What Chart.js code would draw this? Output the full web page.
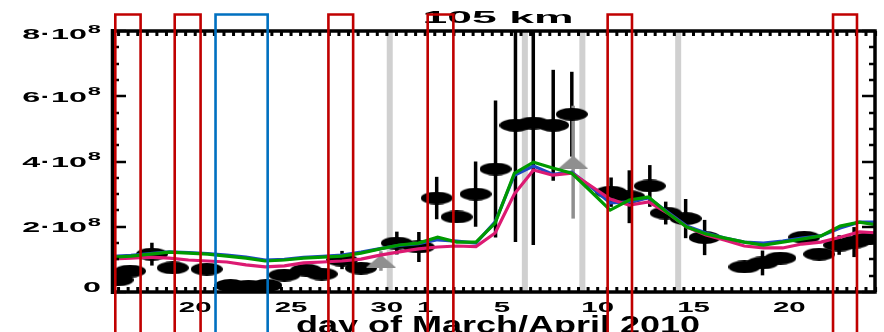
<!DOCTYPE html>
<html>
<head>
<meta charset="utf-8">
<script src="https://cdn.jsdelivr.net/npm/chart.js@4/dist/chart.umd.min.js"></script>
<style>
  html, body { margin: 0; padding: 0; background: #fff; overflow: hidden; }
  canvas { display: block; }
</style>
</head>
<body>
<canvas id="c" width="884" height="332"></canvas>
<script>
// ---- Data (x = day of year 2010, y = density in units of 1e8) ----
const obsDay = [74.95, 75.6, 76.74, 77.83, 79.6, 80.84, 81.78, 82.71, 83.65, 84.79, 85.6, 86.66, 87.65,
  89.52, 90.67, 91.6, 92.64, 93.63, 94.67, 95.71, 96.64, 97.68, 98.65,
  100.7, 101.65, 102.72, 103.55, 104.59, 105.58, 107.66, 108.6, 109.53, 110.78, 111.56, 112.6, 113.38, 114.21];
const obsVal = [0.37, 0.64, 1.16, 0.74, 0.70, 0.20, 0.18, 0.20, 0.52, 0.67, 0.55, 0.98, 0.73,
  1.50, 1.38, 2.88, 2.30, 3.00, 3.77, 5.11, 5.18, 5.11, 5.45,
  3.06, 2.92, 3.25, 2.42, 2.25, 1.67, 0.77, 0.89, 1.04, 1.68, 1.16, 1.44, 1.53, 1.65];
const obsErr = [0, 0, 0.35, 0, 0, 0, 0, 0, 0, 0, 0, 0.28, 0,
  0.35, 0.46, 0.65, 0, 1.00, 2.10, 3.58, 3.74, 1.70, 1.30,
  0.45, 0.81, 0.64, 0.35, 0.60, 0.54, 0, 0.38, 0, 0, 0, 0.30, 0.46, 0];

const triDay = [88.69, 98.72];
const triVal = [0.95, 3.98];
const triErr = [0.30, 1.73];

const modelDay = [74.65, 75.65, 76.65, 77.65, 78.65, 79.65, 80.65, 81.65, 82.65, 83.65,
  84.65, 85.65, 86.65, 87.65, 88.65, 89.65, 90.65, 91.65, 92.65, 93.65,
  94.65, 95.65, 96.65, 97.65, 98.65, 99.65, 100.65, 101.65, 102.65, 103.65,
  104.65, 105.65, 106.65, 107.65, 108.65, 109.65, 110.65, 111.65, 112.65, 113.65, 114.65];
const modelBlue = [1.09, 1.12, 1.18, 1.23, 1.21, 1.18, 1.13, 1.07, 0.98, 1.00,
  1.06, 1.09, 1.13, 1.22, 1.33, 1.43, 1.48, 1.60, 1.56, 1.50,
  2.15, 3.58, 3.86, 3.61, 3.67, 3.22, 2.73, 2.76, 2.88, 2.45,
  2.02, 1.81, 1.65, 1.53, 1.50, 1.56, 1.65, 1.72, 1.96, 2.14, 2.14];
const modelMagenta = [1.01, 1.04, 1.07, 1.04, 0.98, 0.95, 0.92, 0.83, 0.77, 0.80,
  0.89, 0.92, 0.95, 1.01, 1.13, 1.23, 1.32, 1.38, 1.41, 1.39,
  1.81, 3.00, 3.74, 3.58, 3.64, 3.25, 2.85, 2.66, 2.76, 2.42,
  1.99, 1.75, 1.59, 1.41, 1.35, 1.35, 1.47, 1.53, 1.68, 1.84, 1.81];
const modelGreen = [1.07, 1.10, 1.16, 1.22, 1.19, 1.16, 1.10, 1.04, 0.95, 0.98,
  1.04, 1.07, 1.10, 1.19, 1.32, 1.44, 1.50, 1.68, 1.53, 1.53,
  2.11, 3.64, 3.98, 3.80, 3.64, 3.08, 2.51, 2.82, 2.91, 2.42,
  1.99, 1.78, 1.65, 1.53, 1.44, 1.53, 1.62, 1.72, 2.02, 2.14, 2.05];

// highlighted intervals [start day, end day]
const redSpans = [[74.83, 76.15], [77.93, 79.28], [85.95, 87.24], [91.13, 92.47], [100.52, 101.79], [112.28, 113.53]];
const blueSpans = [[80.06, 82.78]];
const greyDays = [89.15, 96.2, 99.2, 104.2];

const xTickDays = [79, 84, 89, 91, 95, 100, 105, 110];
const xTickLabels = ['20', '25', '30', '1', '5', '10', '15', '20'];
const yTickVals = [0, 2, 4, 6, 8];
const yTickLabels = ['0', '2·10^8', '4·10^8', '6·10^8', '8·10^8'];

const titleText = '105 km';
const xTitleText = 'day of March/April 2010';

// ---- marker images ----
function ellipseImg(w, h, color) {
  const c = document.createElement('canvas');
  c.width = w; c.height = h;
  const g = c.getContext('2d');
  g.fillStyle = color;
  g.beginPath();
  g.ellipse(w / 2, h / 2, w / 2, h / 2, 0, 0, Math.PI * 2);
  g.fill();
  return c;
}
function triangleImg(w, h, color) {
  const c = document.createElement('canvas');
  c.width = w; c.height = h;
  const g = c.getContext('2d');
  g.fillStyle = color;
  g.beginPath();
  g.moveTo(w / 2, 0);
  g.lineTo(w, h);
  g.lineTo(0, h);
  g.closePath();
  g.fill();
  return c;
}
const dotImg = ellipseImg(32, 13, '#000');
const triImg = triangleImg(30, 13, '#8f8f8f');

const FONT = "'Liberation Sans', Arial, Helvetica, sans-serif";

function stretchText(ctx, text, x, y, size, sx, align) {
  ctx.save();
  ctx.font = 'bold ' + size + 'px ' + FONT;
  ctx.textAlign = 'left';
  ctx.textBaseline = 'alphabetic';
  const w = ctx.measureText(text).width * sx;
  const x0 = align === 'center' ? x - w / 2 : align === 'right' ? x - w : x;
  ctx.translate(x0, y);
  ctx.scale(sx, 1);
  ctx.fillStyle = '#000';
  ctx.fillText(text, 0, 0);
  ctx.restore();
  return w;
}
function textWidth(ctx, text, size, sx) {
  ctx.save();
  ctx.font = 'bold ' + size + 'px ' + FONT;
  const w = ctx.measureText(text).width * sx;
  ctx.restore();
  return w;
}

const decor = {
  id: 'decor',
  beforeDatasetsDraw(chart) {
    const { ctx, chartArea: a, scales: { x, y } } = chart;
    ctx.save();
    // grey reference days
    ctx.fillStyle = '#d0d0d0';
    greyDays.forEach(d => {
      const px = x.getPixelForValue(d);
      ctx.fillRect(px - 3, a.top, 6, a.bottom - a.top);
    });
    ctx.beginPath();
    ctx.rect(a.left, a.top, a.right - a.left, a.bottom - a.top);
    ctx.clip();
    // error bars
    ctx.lineWidth = 3.5;
    ctx.strokeStyle = '#000';
    obsDay.forEach((d, i) => {
      if (!obsErr[i]) return;
      const px = x.getPixelForValue(d);
      ctx.beginPath();
      ctx.moveTo(px, y.getPixelForValue(obsVal[i] + obsErr[i]));
      ctx.lineTo(px, y.getPixelForValue(obsVal[i] - obsErr[i]));
      ctx.stroke();
    });
    ctx.strokeStyle = '#8f8f8f';
    triDay.forEach((d, i) => {
      const px = x.getPixelForValue(d);
      ctx.beginPath();
      ctx.moveTo(px, y.getPixelForValue(triVal[i] + triErr[i]));
      ctx.lineTo(px, y.getPixelForValue(triVal[i] - triErr[i]));
      ctx.stroke();
    });
    ctx.restore();
  },
  afterDraw(chart) {
    const { ctx, chartArea: a, scales: { x, y } } = chart;
    ctx.save();
    ctx.strokeStyle = '#000';
    ctx.lineCap = 'butt';
    // y ticks (inward, both sides)
    ctx.lineWidth = 2.5;
    for (let v = 0; v <= 8.001; v += 0.5) {
      const py = Math.round(y.getPixelForValue(v));
      const len = Math.abs(v % 2) < 1e-6 ? 13 : 6;
      ctx.beginPath();
      ctx.moveTo(a.left, py); ctx.lineTo(a.left + len, py);
      ctx.moveTo(a.right, py); ctx.lineTo(a.right - len, py);
      ctx.stroke();
    }
    // x ticks every half day (inward, top and bottom)
    ctx.lineWidth = 3;
    for (let d = 75; d <= 114.5; d += 0.5) {
      const px = x.getPixelForValue(d);
      ctx.beginPath();
      ctx.moveTo(px, a.top); ctx.lineTo(px, a.top + 5);
      ctx.moveTo(px, a.bottom); ctx.lineTo(px, a.bottom - 5);
      ctx.stroke();
    }
    // frame
    ctx.lineWidth = 3.5;
    ctx.strokeRect(a.left, a.top, a.right - a.left, a.bottom - a.top);
    ctx.lineWidth = 4.5;
    ctx.beginPath();
    ctx.moveTo(a.left, a.top - 2); ctx.lineTo(a.left, a.bottom + 2);
    ctx.stroke();

    // y tick labels
    yTickVals.forEach((v, i) => {
      const c = Math.min(287, Math.max(34, y.getPixelForValue(v)));
      const base = c + 5.4;
      const parts = yTickLabels[i].split('^');
      const right = 101;
      if (parts.length === 1) {
        stretchText(ctx, parts[0], right, base, 15, 2.15, 'right');
      } else {
        const wMain = textWidth(ctx, parts[0], 15, 2.15);
        const wExp = textWidth(ctx, parts[1], 11, 2.15);
        const x0 = right - wExp - wMain - 1;
        stretchText(ctx, parts[0], x0, base, 15, 2.15, 'left');
        stretchText(ctx, parts[1], x0 + wMain + 1, base - 6.5, 11, 2.15, 'left');
      }
    });
    // x tick labels
    xTickDays.forEach((d, i) => {
      stretchText(ctx, xTickLabels[i], x.getPixelForValue(d), 312, 14, 2.1, 'center');
    });
    // titles
    stretchText(ctx, titleText, 498, 23, 16, 2.78, 'center');
    stretchText(ctx, xTitleText, 498, 333, 24, 1.5, 'center');

    // highlighted intervals
    ctx.lineWidth = 2.6;
    const drawSpan = (s, color) => {
      const xl = x.getPixelForValue(s[0]);
      const xr = x.getPixelForValue(s[1]);
      ctx.strokeStyle = color;
      ctx.beginPath();
      ctx.moveTo(xl, 340); ctx.lineTo(xl, 14.5); ctx.lineTo(xr, 14.5); ctx.lineTo(xr, 340);
      ctx.stroke();
    };
    redSpans.forEach(s => drawSpan(s, '#c00000'));
    blueSpans.forEach(s => drawSpan(s, '#0070c0'));
    ctx.restore();
  }
};

const toXY = (xs, ys) => xs.map((d, i) => ({ x: d, y: ys[i] }));

new Chart(document.getElementById('c'), {
  type: 'scatter',
  data: {
    datasets: [
      { label: 'model 3', data: toXY(modelDay, modelGreen), showLine: true, borderColor: '#009a00',
        borderWidth: 3.2, pointRadius: 0, order: 1, clip: 0 },
      { label: 'model 2', data: toXY(modelDay, modelMagenta), showLine: true, borderColor: '#dc1a72',
        borderWidth: 3.2, pointRadius: 0, order: 2, clip: 0 },
      { label: 'model 1', data: toXY(modelDay, modelBlue), showLine: true, borderColor: '#1f48c4',
        borderWidth: 3.2, pointRadius: 0, order: 3, clip: 0 },
      { label: 'reference', data: toXY(triDay, triVal), pointStyle: triImg, pointRadius: 8,
        order: 4, clip: 0 },
      { label: 'observed', data: toXY(obsDay, obsVal), pointStyle: dotImg, pointRadius: 8,
        order: 5, clip: 0 }
    ]
  },
  options: {
    responsive: false,
    animation: false,
    events: [],
    layout: { padding: { left: 113, right: 6, top: 31, bottom: 40 } },
    plugins: { legend: { display: false }, tooltip: { enabled: false }, title: { display: false } },
    scales: {
      x: { type: 'linear', min: 74.71, max: 114.47, display: false },
      y: { type: 'linear', min: 0, max: 8, display: false }
    }
  },
  plugins: [decor]
});
</script>
</body>
</html>
